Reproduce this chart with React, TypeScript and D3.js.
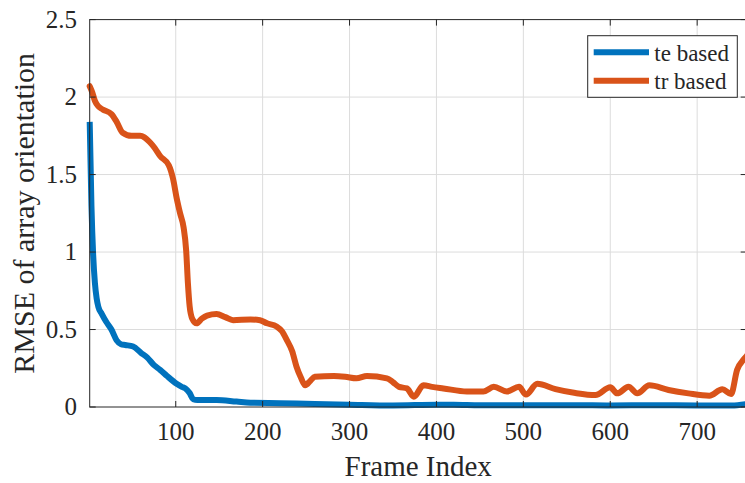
import React, { useRef, useEffect } from "react";
import * as d3 from "d3";

// te based (blue)
const teFrames = [1, 3, 5, 7, 9, 11, 15, 20, 26, 32, 37, 42, 51, 60, 67, 75, 82, 90, 101, 107, 111, 116, 120, 125, 147, 170, 186, 220, 260, 300, 350, 400, 420, 450, 500, 550, 600, 650, 700, 740, 757];
const teValues = [1.84, 1.3, 0.98, 0.8, 0.7, 0.645, 0.6, 0.55, 0.5, 0.43, 0.405, 0.4, 0.39, 0.35, 0.32, 0.27, 0.24, 0.2, 0.15, 0.13, 0.12, 0.09, 0.05, 0.045, 0.045, 0.035, 0.028, 0.025, 0.02, 0.015, 0.01, 0.015, 0.015, 0.012, 0.012, 0.012, 0.01, 0.012, 0.01, 0.01, 0.02];

// tr based (orange)
const trFrames = [1, 4, 7, 11, 16, 26, 32, 39, 49, 59, 64, 70, 76, 82, 92, 97, 101, 105, 109, 112, 114, 116, 119, 124, 130, 136, 147, 157, 166, 186, 197, 205, 216, 222, 228, 234, 239, 244, 249, 255, 260, 282, 295, 308, 320, 343, 350, 357, 366, 374, 385, 395, 408, 435, 454, 466, 481, 495, 503, 516, 537, 560, 583, 600, 608, 621, 631, 645, 667, 690, 714, 729, 739, 746, 754, 757];
const trValues = [2.07, 2.03, 1.975, 1.94, 1.92, 1.89, 1.84, 1.77, 1.75, 1.75, 1.74, 1.71, 1.67, 1.62, 1.56, 1.47, 1.35, 1.25, 1.16, 1.01, 0.8, 0.65, 0.57, 0.54, 0.57, 0.59, 0.6, 0.58, 0.56, 0.565, 0.56, 0.54, 0.52, 0.49, 0.43, 0.36, 0.26, 0.19, 0.14, 0.17, 0.195, 0.2, 0.195, 0.185, 0.2, 0.185, 0.16, 0.13, 0.12, 0.066, 0.14, 0.13, 0.12, 0.1, 0.1, 0.13, 0.1, 0.13, 0.08, 0.15, 0.115, 0.09, 0.077, 0.127, 0.088, 0.13, 0.088, 0.14, 0.11, 0.088, 0.073, 0.114, 0.084, 0.24, 0.31, 0.33];

const xTicks = [100, 200, 300, 400, 500, 600, 700];
const yTicks = [0, 0.5, 1, 1.5, 2, 2.5];
const yTickLabels = ["0", "0.5", "1", "1.5", "2", "2.5"];
const seriesNames = ["te based", "tr based"];
const seriesColors = ["#0072BD", "#D95319"];

const W = 745, H = 483;
const left = 89.7, right = 746.7, top = 19.6, bottom = 407;
const font = "\"Liberation Serif\", \"Times New Roman\", serif";
const ink = "#262626";

const App = () => {
    const svgRef = useRef(null);

    useEffect(() => {
        const svg = d3.select(svgRef.current);
        svg.selectAll("*").remove();

        const x = d3.scaleLinear().domain([1, 757]).range([left, right]);
        const y = d3.scaleLinear().domain([0, 2.5]).range([bottom, top]);

        // grid
        const grid = svg.append("g").attr("stroke", "#dcdcdc").attr("stroke-width", 1);
        xTicks.forEach(t => {
            grid.append("line").attr("x1", x(t)).attr("x2", x(t)).attr("y1", top).attr("y2", bottom);
        });
        yTicks.slice(1, -1).forEach(t => {
            grid.append("line").attr("x1", left).attr("x2", right).attr("y1", y(t)).attr("y2", y(t));
        });

        // series
        const series = [
            { frames: teFrames, values: teValues },
            { frames: trFrames, values: trValues },
        ];
        const line = d3.line()
            .x(d => x(d[0]))
            .y(d => y(d[1]))
            .curve(d3.curveMonotoneX);
        series.forEach((s, i) => {
            svg.append("path")
                .attr("d", line(s.frames.map((f, j) => [f, s.values[j]])))
                .attr("fill", "none")
                .attr("stroke", seriesColors[i])
                .attr("stroke-width", 6)
                .attr("stroke-linejoin", "round")
                .attr("stroke-linecap", i === 1 ? "round" : "butt");
        });

        // box + ticks
        const ax = svg.append("g").attr("stroke", ink).attr("stroke-width", 1).attr("fill", "none");
        ax.append("rect").attr("x", left).attr("y", top).attr("width", right - left).attr("height", bottom - top);
        xTicks.forEach(t => {
            ax.append("line").attr("x1", x(t)).attr("x2", x(t)).attr("y1", bottom).attr("y2", bottom - 6);
            ax.append("line").attr("x1", x(t)).attr("x2", x(t)).attr("y1", top).attr("y2", top + 6);
        });
        yTicks.forEach(t => {
            ax.append("line").attr("x1", left).attr("x2", left + 6).attr("y1", y(t)).attr("y2", y(t));
            ax.append("line").attr("x1", right).attr("x2", right - 6).attr("y1", y(t)).attr("y2", y(t));
        });

        const txt = svg.append("g").style("font-family", font).attr("fill", ink);

        // tick labels
        txt.append("g").selectAll("text")
            .data(xTicks)
            .enter()
            .append("text")
            .attr("x", d => x(d))
            .attr("y", 440)
            .attr("text-anchor", "middle")
            .style("font-size", "25px")
            .text(d => d);

        txt.append("g").selectAll("text")
            .data(yTicks)
            .enter()
            .append("text")
            .attr("x", 77)
            .attr("y", d => y(d) + 8)
            .attr("text-anchor", "end")
            .style("font-size", "25px")
            .text((d, i) => yTickLabels[i]);

        // axis labels
        txt.append("text")
            .attr("x", (left + right) / 2)
            .attr("y", 476)
            .attr("text-anchor", "middle")
            .style("font-size", "29px")
            .text("Frame Index");

        txt.append("text")
            .attr("transform", `translate(34, ${(top + bottom) / 2}) rotate(-90)`)
            .attr("text-anchor", "middle")
            .style("font-size", "30px")
            .text("RMSE of array orientation");

        // legend
        const lg = svg.append("g");
        lg.append("rect")
            .attr("x", 587.7).attr("y", 35.7)
            .attr("width", 149.6).attr("height", 61.6)
            .attr("fill", "white").attr("stroke", ink).attr("stroke-width", 1);
        seriesNames.forEach((name, i) => {
            const ly = 52.3 + i * 28.4;
            lg.append("line")
                .attr("x1", 593.7).attr("x2", 649)
                .attr("y1", ly).attr("y2", ly)
                .attr("stroke", seriesColors[i]).attr("stroke-width", 6);
            lg.append("text")
                .attr("x", 654.3).attr("y", ly + 8.5)
                .style("font-family", font)
                .style("font-size", "23px")
                .attr("fill", ink)
                .text(name);
        });
    }, []);

    return (
        <div>
            <svg ref={svgRef} width={W} height={H} style={{ position: "absolute", left: 0, top: 0, background: "white" }}></svg>
        </div>
    );
};

export default App;
